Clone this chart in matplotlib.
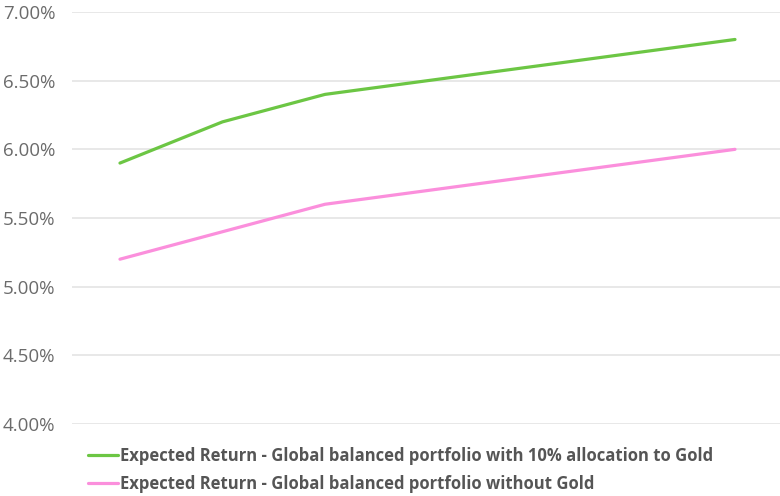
import matplotlib
matplotlib.use("Agg")
import matplotlib.pyplot as plt
from matplotlib.ticker import FuncFormatter, MultipleLocator

# Expected return (%) across the model steps
steps = [0, 1, 2, 3, 4, 5, 6]
with_gold = [5.9, 6.2, 6.4, 6.5, 6.6, 6.7, 6.8]
without_gold = [5.2, 5.4, 5.6, 5.7, 5.8, 5.9, 6.0]
series_labels = [
    "Expected Return - Global balanced portfolio with 10% allocation to Gold",
    "Expected Return - Global balanced portfolio without Gold",
]
colors = ["#6cc644", "#fb8fdc"]

plt.rcParams["font.family"] = ["Open Sans", "DejaVu Sans"]

W, H = 780, 496
fig = plt.figure(figsize=(W / 100, H / 100), dpi=100)
ax = fig.add_axes([72 / W, 1 - 424 / H, (780 - 72) / W, (424 - 12) / H])

ax.plot(steps, with_gold, color=colors[0], lw=2.3, solid_capstyle="round",
        label=series_labels[0], zorder=3)
ax.plot(steps, without_gold, color=colors[1], lw=2.3, solid_capstyle="round",
        label=series_labels[1], zorder=3)

ax.set_ylim(4.0, 7.0)
ax.set_xlim(-0.468, 6.439)
ax.yaxis.set_major_locator(MultipleLocator(0.5))
ax.yaxis.set_major_formatter(FuncFormatter(lambda v, _: f"{v:.2f}%"))
ax.set_xticks([])
ax.grid(axis="y", color="#e6e6e6", lw=1.3, zorder=0)
ax.tick_params(axis="y", length=0, pad=12, labelsize=13.5, labelcolor="#6b6b6b")
for s in ax.spines.values():
    s.set_visible(False)

leg = fig.legend(
    loc="upper left", bbox_to_anchor=(88 / W, 1 - 447 / H),
    frameon=False, borderpad=0, borderaxespad=0,
    handlelength=1.8, handletextpad=0.1, labelspacing=0.6,
    prop={"weight": "bold", "size": 12},
)
for t in leg.get_texts():
    t.set_color("#555555")

fig.savefig("out.png", dpi=100)
